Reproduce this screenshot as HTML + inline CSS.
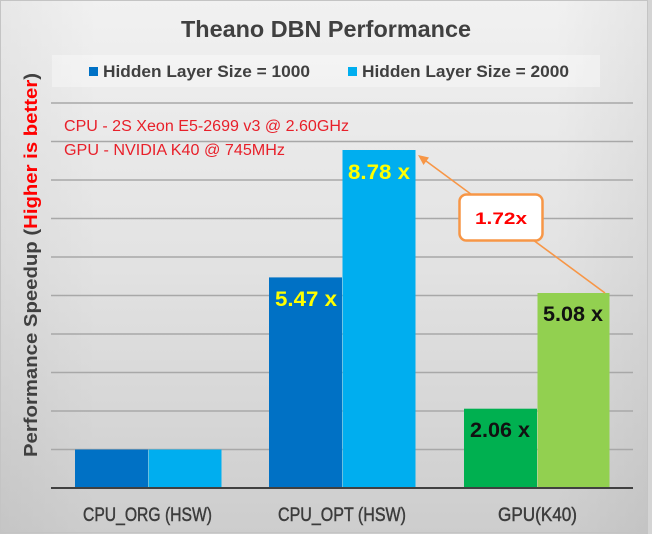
<!DOCTYPE html>
<html>
<head>
<meta charset="utf-8">
<style>
  html, body { margin:0; padding:0; background:#ddd; }
  svg { display:block; }
  text { font-family: "Liberation Sans", sans-serif; }
</style>
</head>
<body>
<svg width="652" height="534" viewBox="0 0 652 534" xmlns="http://www.w3.org/2000/svg">
  <defs>
    <linearGradient id="bg" x1="0" y1="0" x2="0" y2="1">
      <stop offset="0" stop-color="#f1f1f1"/>
      <stop offset="0.5" stop-color="#e2e2e2"/>
      <stop offset="1" stop-color="#cdcdcd"/>
    </linearGradient>
    <linearGradient id="side" x1="0" y1="0" x2="1" y2="0">
      <stop offset="0" stop-color="#000" stop-opacity="0.04"/>
      <stop offset="0.15" stop-color="#000" stop-opacity="0"/>
      <stop offset="0.85" stop-color="#000" stop-opacity="0"/>
      <stop offset="1" stop-color="#000" stop-opacity="0.05"/>
    </linearGradient>
  </defs>
  <rect x="0" y="0" width="652" height="534" fill="url(#bg)"/>
  <rect x="0" y="0" width="652" height="534" fill="url(#side)"/>
  <rect x="0.5" y="0.5" width="647" height="532" fill="none" stroke="#c4c4c4" stroke-width="1"/>
  <rect x="648" y="0" width="4" height="534" fill="#d4d4d4"/>

  <!-- Title -->
  <text x="326" y="37" text-anchor="middle" font-size="23" font-weight="bold" fill="#404040" textLength="290" lengthAdjust="spacingAndGlyphs">Theano DBN Performance</text>

  <!-- Legend -->
  <rect x="52" y="55" width="548" height="32" fill="#ffffff" fill-opacity="0.35"/>
  <rect x="89" y="67" width="9" height="9" fill="#0071c5"/>
  <text x="103" y="77" font-size="17" font-weight="bold" fill="#404040" textLength="207" lengthAdjust="spacingAndGlyphs">Hidden Layer Size = 1000</text>
  <rect x="348" y="67" width="9" height="9" fill="#00aeef"/>
  <text x="362" y="77" font-size="17" font-weight="bold" fill="#404040" textLength="207" lengthAdjust="spacingAndGlyphs">Hidden Layer Size = 2000</text>

  <!-- Gridlines -->
  <g stroke="#a8a8a8" stroke-width="1.5">
    <line x1="51" y1="103" x2="633" y2="103"/>
    <line x1="51" y1="141.5" x2="633" y2="141.5"/>
    <line x1="51" y1="180" x2="633" y2="180"/>
    <line x1="51" y1="218.5" x2="633" y2="218.5"/>
    <line x1="51" y1="257" x2="633" y2="257"/>
    <line x1="51" y1="295.5" x2="633" y2="295.5"/>
    <line x1="51" y1="334" x2="633" y2="334"/>
    <line x1="51" y1="372.5" x2="633" y2="372.5"/>
    <line x1="51" y1="411" x2="633" y2="411"/>
    <line x1="51" y1="449.5" x2="633" y2="449.5"/>
  </g>

  <!-- Bars -->
  <rect x="75" y="449.5" width="73" height="38.5" fill="#0071c5"/>
  <rect x="148.5" y="449.5" width="73" height="38.5" fill="#00aeef"/>
  <rect x="269" y="277.4" width="73" height="210.6" fill="#0071c5"/>
  <rect x="342.5" y="150" width="73" height="338" fill="#00aeef"/>
  <rect x="464" y="408.7" width="73" height="79.3" fill="#00b050"/>
  <rect x="537.5" y="293" width="72" height="195" fill="#92d050"/>

  <!-- Baseline -->
  <line x1="51" y1="488" x2="633" y2="488" stroke="#404040" stroke-width="2"/>

  <!-- Red annotations -->
  <text x="64" y="131" font-size="15.5" fill="#e8202a" textLength="285" lengthAdjust="spacingAndGlyphs">CPU - 2S Xeon E5-2699 v3 @ 2.60GHz</text>
  <text x="64" y="155" font-size="15.5" fill="#e8202a" textLength="221" lengthAdjust="spacingAndGlyphs">GPU - NVIDIA K40 @ 745MHz</text>

  <!-- Value labels -->
  <text x="275" y="306" font-size="21" font-weight="bold" fill="#ffff00" textLength="62" lengthAdjust="spacingAndGlyphs">5.47 x</text>
  <text x="348" y="179" font-size="21" font-weight="bold" fill="#ffff00" textLength="62" lengthAdjust="spacingAndGlyphs">8.78 x</text>
  <text x="470" y="437" font-size="21" font-weight="bold" fill="#111111" textLength="60" lengthAdjust="spacingAndGlyphs">2.06 x</text>
  <text x="543" y="321" font-size="21" font-weight="bold" fill="#111111" textLength="60" lengthAdjust="spacingAndGlyphs">5.08 x</text>

  <!-- Arrow -->
  <line x1="605" y1="293" x2="424" y2="159.5" stroke="#f79646" stroke-width="1.6"/>
  <polygon points="418,155 429,157.5 423.5,165" fill="#f79646"/>

  <!-- Callout -->
  <rect x="459.5" y="194.5" width="83" height="46" rx="7" ry="7" fill="#ffffff" stroke="#f79646" stroke-width="2.5"/>
  <text x="501" y="224" text-anchor="middle" font-size="17" font-weight="bold" fill="#ff0000" textLength="52" lengthAdjust="spacingAndGlyphs">1.72x</text>

  <!-- Category labels -->
  <g font-size="19" fill="#3c3c3c" stroke="#3c3c3c" stroke-width="0.45">
    <text x="147.5" y="521" text-anchor="middle" textLength="129" lengthAdjust="spacingAndGlyphs">CPU_ORG (HSW)</text>
    <text x="342" y="521" text-anchor="middle" textLength="128" lengthAdjust="spacingAndGlyphs">CPU_OPT (HSW)</text>
    <text x="537.5" y="521" text-anchor="middle" textLength="79" lengthAdjust="spacingAndGlyphs">GPU(K40)</text>
  </g>

  <!-- Y axis label -->
  <text transform="rotate(-90)" x="-265" y="37" text-anchor="middle" font-size="18" font-weight="bold" fill="#404040" textLength="384" lengthAdjust="spacingAndGlyphs">Performance Speedup (<tspan fill="#ff0000">Higher is better</tspan>)</text>
</svg>
</body>
</html>
